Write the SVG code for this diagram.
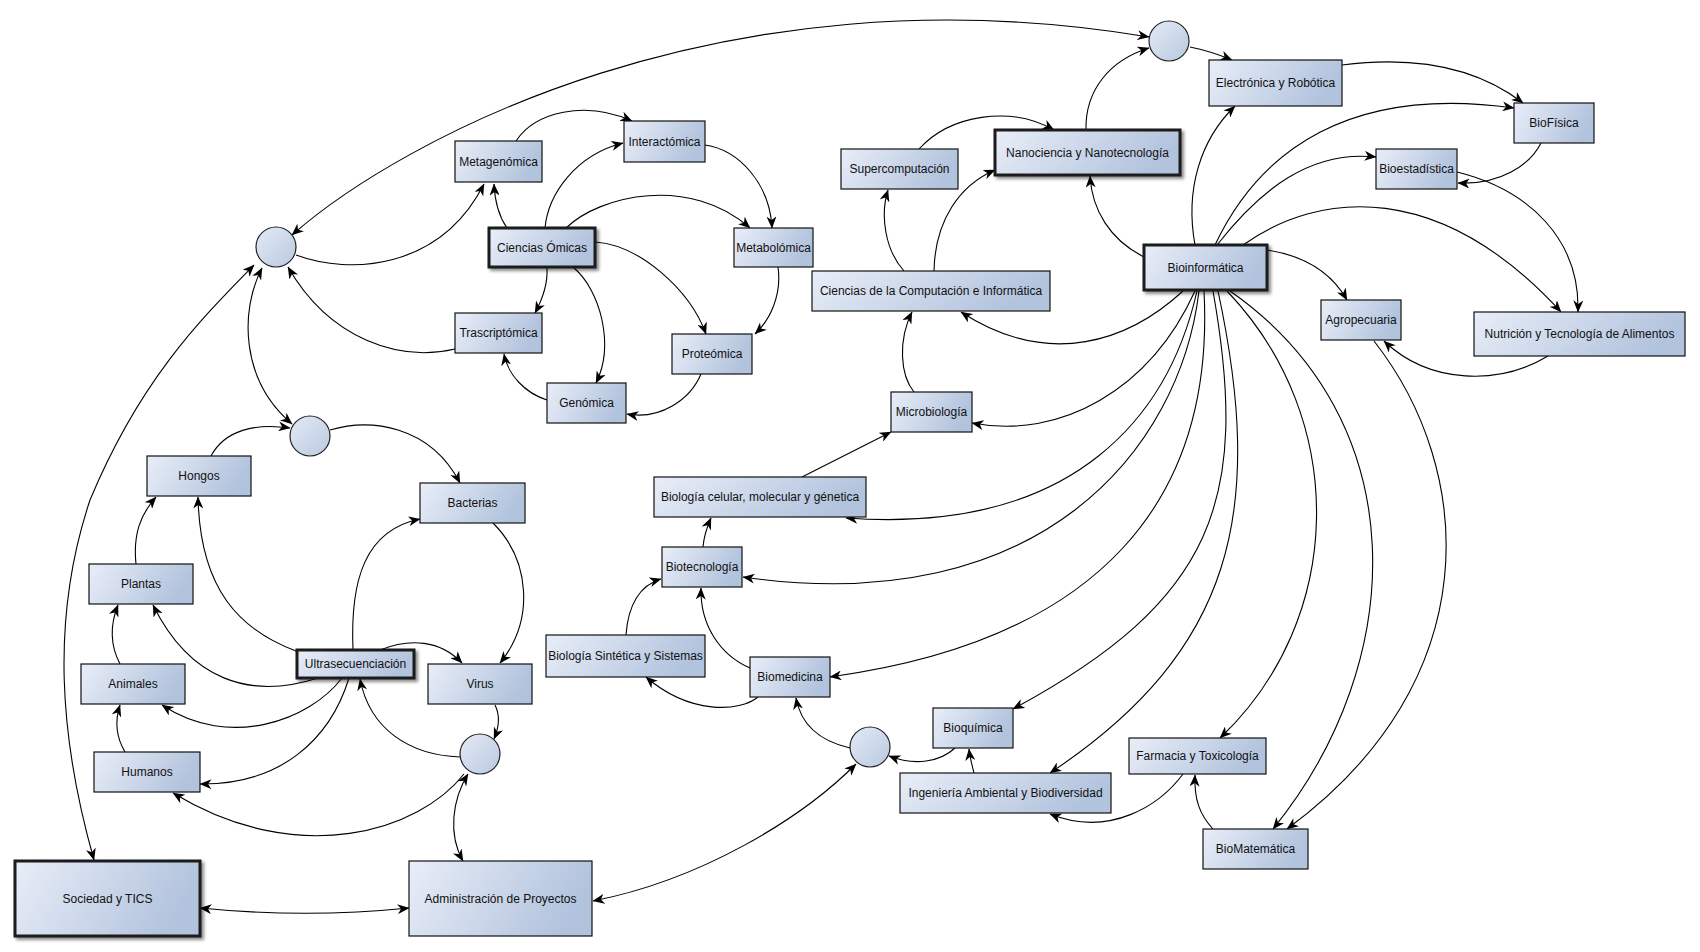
<svg xmlns="http://www.w3.org/2000/svg" width="1700" height="952" viewBox="0 0 1700 952">
<defs>
<linearGradient id="gn" x1="0" y1="0" x2="1" y2="0.25">
<stop offset="0" stop-color="#e9eef8"/>
<stop offset="1" stop-color="#b2c3dd"/>
</linearGradient>
<linearGradient id="gc" x1="0" y1="0" x2="1" y2="1">
<stop offset="0" stop-color="#e4eaf5"/>
<stop offset="1" stop-color="#b9c9e1"/>
</linearGradient>
<filter id="sh" x="-10%" y="-20%" width="130%" height="150%">
<feDropShadow dx="2.5" dy="2.5" stdDeviation="1.5" flood-color="#000" flood-opacity="0.45"/>
</filter>
<marker id="ar" viewBox="0 0 12 10" refX="11.5" refY="5" markerWidth="12" markerHeight="10" orient="auto-start-reverse" markerUnits="userSpaceOnUse">
<path d="M0,0 L12,5 L0,10 L3.5,5 Z" fill="#000"/>
</marker>
</defs>
<style>
.n rect{fill:url(#gn);stroke:#111;stroke-width:1.2}
.t rect{fill:url(#gn);stroke:#1a1a1a;stroke-width:3;filter:url(#sh)}
.c circle{fill:url(#gc);stroke:#222;stroke-width:1.2}
text{font-family:"Liberation Sans",Arial,sans-serif;font-size:12px;fill:#111;text-anchor:middle}
#connectors path{fill:none;stroke:#000;stroke-width:1.1;marker-end:url(#ar)}
#connectors path.b{marker-start:url(#ar)}
</style>
<rect width="1700" height="952" fill="#fff"/>
<g id="connectors">
<path class="b" d="M292,235 C400,140 720,-35 1149,37"/>
<path d="M296,255 C350,275 440,270 484,184"/>
<path d="M507,228 C500,218 495,205 494,184"/>
<path d="M516,141 C535,112 585,100 632,121"/>
<path d="M545,228 C548,195 575,155 623,143"/>
<path d="M566,228 C600,195 690,175 750,228"/>
<path d="M705,145 C740,150 770,185 772,228"/>
<path d="M595,242 C640,245 690,290 706,334"/>
<path d="M778,267 C782,295 770,320 755,334"/>
<path d="M574,268 C600,290 615,345 596,383"/>
<path d="M701,374 C690,400 660,420 627,414"/>
<path d="M547,268 C548,285 542,300 535,313"/>
<path d="M547,400 C525,393 508,375 504,354"/>
<path d="M455,349 C400,362 330,340 288,267"/>
<path class="b" d="M262,268 C240,310 240,380 292,424"/>
<path class="b" d="M94,860 C60,740 50,620 90,500 C140,380 200,320 254,265"/>
<path d="M211,456 C225,430 255,423 290,428"/>
<path d="M330,430 C370,418 430,425 460,483"/>
<path d="M136,564 C133,535 140,515 156,497"/>
<path d="M296,651 C240,630 200,590 198,497"/>
<path d="M120,664 C110,645 110,625 118,605"/>
<path d="M318,678 C250,700 190,680 153,605"/>
<path d="M342,678 C310,720 230,750 162,705"/>
<path d="M125,752 C115,735 115,720 120,705"/>
<path d="M349,678 C330,740 280,785 200,784"/>
<path d="M464,774 C420,830 300,870 173,793"/>
<path class="b" d="M468,774 C452,800 448,835 463,861"/>
<path d="M460,757 C410,755 370,730 360,679"/>
<path d="M495,705 C500,715 500,725 494,739"/>
<path d="M493,523 C530,560 535,620 500,663"/>
<path d="M353,650 C350,580 365,530 420,519"/>
<path d="M380,650 C410,638 440,640 462,663"/>
<path class="b" d="M200,908 C270,915 340,915 409,908"/>
<path class="b" d="M593,901 C700,880 800,820 856,764"/>
<path d="M850,748 C815,740 800,720 796,698"/>
<path d="M955,748 C940,762 915,766 889,756"/>
<path d="M974,773 C972,765 970,758 969,749"/>
<path d="M758,697 C740,712 690,715 646,677"/>
<path d="M750,668 C720,655 700,625 701,588"/>
<path d="M626,635 C628,605 640,585 661,579"/>
<path d="M703,547 C704,535 707,527 711,518"/>
<path d="M802,477 L891,432"/>
<path d="M914,392 C900,375 898,340 912,312"/>
<path d="M904,271 C885,250 880,215 888,190"/>
<path d="M919,149 C950,115 1010,105 1054,130"/>
<path d="M934,271 C935,220 960,185 995,170"/>
<path d="M1086,130 C1085,90 1110,60 1149,48"/>
<path d="M1144,257 C1110,240 1092,210 1090,176"/>
<path d="M1183,291 C1130,340 1050,370 961,312"/>
<path d="M1195,291 C1150,390 1060,440 972,423"/>
<path d="M1197,291 C1170,410 1080,535 846,518"/>
<path d="M1199,291 C1180,450 1040,620 743,577"/>
<path d="M1204,291 C1215,500 1100,640 830,677"/>
<path d="M1213,291 C1250,500 1215,600 1013,709"/>
<path d="M1218,291 C1265,510 1235,650 1050,773"/>
<path d="M1227,291 C1350,420 1345,620 1220,738"/>
<path d="M1230,291 C1415,420 1410,660 1273,829"/>
<path d="M1374,341 C1475,470 1490,680 1287,829"/>
<path d="M1183,774 C1160,805 1110,838 1050,814"/>
<path d="M1213,829 C1200,815 1194,800 1195,775"/>
<path d="M1548,356 C1500,385 1430,385 1384,341"/>
<path d="M1267,250 C1300,255 1330,270 1347,300"/>
<path d="M1243,245 C1320,190 1440,180 1561,312"/>
<path d="M1457,172 C1530,190 1580,240 1578,312"/>
<path d="M1541,143 C1530,165 1500,185 1458,183"/>
<path d="M1217,245 C1260,190 1310,150 1376,157"/>
<path d="M1215,245 C1260,150 1350,85 1514,108"/>
<path d="M1342,65 C1420,55 1480,70 1523,103"/>
<path d="M1195,245 C1185,190 1200,140 1235,106"/>
<path d="M1190,47 C1205,50 1220,55 1232,60"/>
</g>
<g id="n_metagenomica" class="n"><rect x="455" y="141" width="87" height="41"/><text x="498.5" y="165.5">Metagenómica</text></g>
<g id="n_omicas" class="t"><rect x="489" y="228" width="106" height="39"/><text x="542" y="251.5">Ciencias Ómicas</text></g>
<g id="n_trascriptomica" class="n"><rect x="455" y="313" width="87" height="40"/><text x="498.5" y="337">Trascriptómica</text></g>
<g id="n_genomica" class="n"><rect x="547" y="383" width="79" height="40"/><text x="586.5" y="407">Genómica</text></g>
<g id="n_interactomica" class="n"><rect x="624" y="121" width="81" height="41"/><text x="664.5" y="145.5">Interactómica</text></g>
<g id="n_metabolomica" class="n"><rect x="734" y="228" width="79" height="39"/><text x="773.5" y="251.5">Metabolómica</text></g>
<g id="n_proteomica" class="n"><rect x="672" y="334" width="80" height="40"/><text x="712" y="358">Proteómica</text></g>
<g id="n_supercomputacion" class="n"><rect x="841" y="149" width="117" height="40"/><text x="899.5" y="173">Supercomputación</text></g>
<g id="n_nanociencia" class="t"><rect x="995" y="130" width="185" height="45"/><text x="1087.5" y="156.5">Nanociencia y Nanotecnología</text></g>
<g id="n_computacion" class="n"><rect x="812" y="271" width="238" height="40"/><text x="931" y="295">Ciencias de la Computación e Informática</text></g>
<g id="n_microbiologia" class="n"><rect x="891" y="392" width="81" height="40"/><text x="931.5" y="416">Microbiología</text></g>
<g id="c_top" class="c"><circle cx="1169" cy="41" r="20"/></g>
<g id="n_electronica" class="n"><rect x="1209" y="60" width="133" height="46"/><text x="1275.5" y="87">Electrónica y Robótica</text></g>
<g id="n_biofisica" class="n"><rect x="1514" y="103" width="80" height="40"/><text x="1554" y="127">BioFísica</text></g>
<g id="n_bioestadistica" class="n"><rect x="1376" y="149" width="81" height="40"/><text x="1416.5" y="173">Bioestadística</text></g>
<g id="n_bioinformatica" class="t"><rect x="1144" y="245" width="123" height="45"/><text x="1205.5" y="271.5">Bioinformática</text></g>
<g id="n_agropecuaria" class="n"><rect x="1321" y="300" width="80" height="40"/><text x="1361" y="324">Agropecuaria</text></g>
<g id="n_nutricion" class="n"><rect x="1474" y="312" width="211" height="44"/><text x="1579.5" y="338">Nutrición y Tecnología de Alimentos</text></g>
<g id="c_a" class="c"><circle cx="276" cy="247" r="20"/></g>
<g id="c_b" class="c"><circle cx="310" cy="436" r="20"/></g>
<g id="n_hongos" class="n"><rect x="147" y="456" width="104" height="40"/><text x="199" y="480">Hongos</text></g>
<g id="n_bacterias" class="n"><rect x="420" y="483" width="105" height="40"/><text x="472.5" y="507">Bacterias</text></g>
<g id="n_plantas" class="n"><rect x="89" y="564" width="104" height="40"/><text x="141" y="588">Plantas</text></g>
<g id="n_ultra" class="t"><rect x="297" y="650" width="117" height="28"/><text x="355.5" y="668">Ultrasecuenciación</text></g>
<g id="n_animales" class="n"><rect x="81" y="664" width="104" height="40"/><text x="133" y="688">Animales</text></g>
<g id="n_virus" class="n"><rect x="428" y="664" width="104" height="40"/><text x="480" y="688">Virus</text></g>
<g id="c_c" class="c"><circle cx="480" cy="754" r="20"/></g>
<g id="n_humanos" class="n"><rect x="94" y="752" width="106" height="40"/><text x="147" y="776">Humanos</text></g>
<g id="n_sociedad" class="t"><rect x="15" y="861" width="185" height="75"/><text x="107.5" y="902.5">Sociedad y TICS</text></g>
<g id="n_admin" class="n"><rect x="409" y="861" width="183" height="75"/><text x="500.5" y="902.5">Administración de Proyectos</text></g>
<g id="n_biocelular" class="n"><rect x="654" y="477" width="212" height="40"/><text x="760" y="501">Biología celular, molecular y génetica</text></g>
<g id="n_biotecnologia" class="n"><rect x="662" y="547" width="80" height="40"/><text x="702" y="571">Biotecnología</text></g>
<g id="n_biosintetica" class="n"><rect x="546" y="635" width="159" height="42"/><text x="625.5" y="660">Biología Sintética y Sistemas</text></g>
<g id="n_biomedicina" class="n"><rect x="750" y="657" width="80" height="40"/><text x="790" y="681">Biomedicina</text></g>
<g id="c_d" class="c"><circle cx="870" cy="747" r="20"/></g>
<g id="n_bioquimica" class="n"><rect x="933" y="708" width="80" height="40"/><text x="973" y="732">Bioquímica</text></g>
<g id="n_ingenieria" class="n"><rect x="900" y="773" width="211" height="40"/><text x="1005.5" y="797">Ingeniería Ambiental y Biodiversidad</text></g>
<g id="n_farmacia" class="n"><rect x="1129" y="738" width="137" height="36"/><text x="1197.5" y="760">Farmacia y Toxicología</text></g>
<g id="n_biomatematica" class="n"><rect x="1203" y="829" width="105" height="40"/><text x="1255.5" y="853">BioMatemática</text></g>
</svg>
